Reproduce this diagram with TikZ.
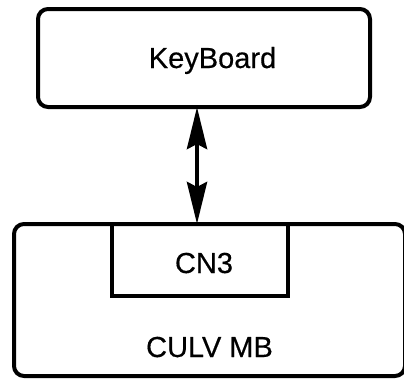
\documentclass[tikz,border=0pt]{standalone}
\usepackage{fontspec}
\setmainfont[FakeBold=0.4]{Liberation Sans}
\usetikzlibrary{arrows.meta}
\begin{document}
\begin{tikzpicture}[x=1pt,y=-1pt,
  box/.style={draw=black,line width=4pt,rounded corners=10pt,inner sep=0pt,outer sep=0pt},
  conn/.style={draw=black,line width=4pt,inner sep=0pt,outer sep=0pt},
  lbl/.style={anchor=base,inner sep=0pt,font=\fontsize{29}{33}\selectfont},
  link/.style={line width=4.5pt,{Stealth[length=42pt,width=20pt,inset=5pt]}-{Stealth[length=42pt,width=20pt,inset=5pt]}}]
\useasboundingbox (0,0) rectangle (404,378);
\node[box,minimum width=332pt,minimum height=98pt] (kb) at (204,58) {};
\node[lbl] (kbt) at (212.5,68) {KeyBoard};
\node[box,minimum width=391pt,minimum height=152pt] (mb) at (209.5,300) {};
\node[conn,minimum width=176pt,minimum height=72pt] (cn) at (200,260) {};
\node[lbl] (cnt) at (204,273) {CN3};
\node[lbl] (mbt) at (209.5,357) {CULV MB};
\coordinate (a1) at (197,107);
\coordinate (a2) at (197,224);
\draw[link] (kb.south -| a1) -- (cn.north -| a2);
\end{tikzpicture}
\end{document}
